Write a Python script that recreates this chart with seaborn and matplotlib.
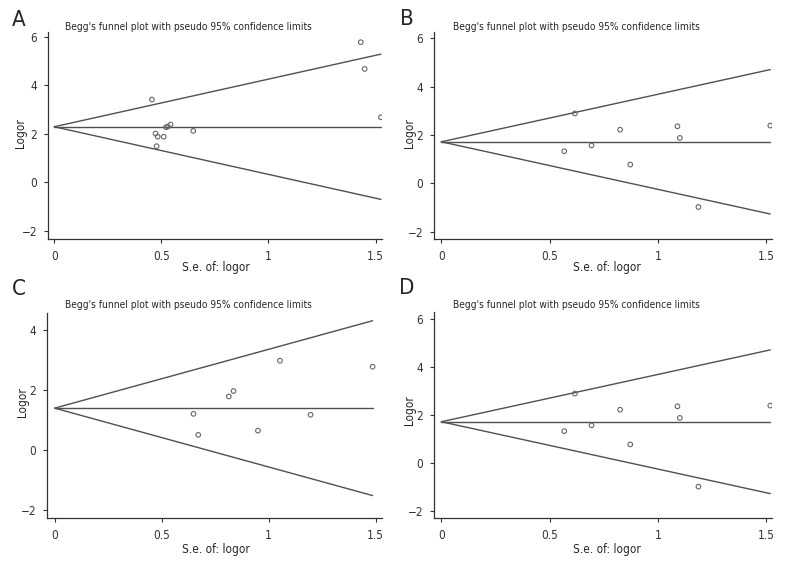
import numpy as np
import pandas as pd
import matplotlib
matplotlib.use("Agg")
import matplotlib.pyplot as plt
from matplotlib import font_manager
import seaborn as sns

# ---- data ----
se_A = [0.456, 0.473, 0.483, 0.478, 0.511, 0.522, 0.530, 0.543, 0.649, 1.431, 1.449, 1.525]
logor_A = [3.41, 2.01, 1.88, 1.49, 1.88, 2.27, 2.30, 2.38, 2.12, 5.77, 4.67, 2.68]
pooled_A = 2.29

se_B = [0.568, 0.617, 0.694, 0.826, 0.873, 1.091, 1.102, 1.188, 1.520]
logor_B = [1.33, 2.89, 1.57, 2.22, 0.78, 2.36, 1.88, -0.97, 2.39]
pooled_B = 1.72

se_C = [0.649, 0.671, 0.814, 0.836, 0.950, 1.053, 1.196, 1.486]
logor_C = [1.22, 0.52, 1.80, 1.98, 0.66, 2.99, 1.19, 2.79]
pooled_C = 1.41

# panel D repeats the data of panel B
se_D = se_B
logor_D = logor_B
pooled_D = pooled_B

title_text = "Begg's funnel plot with pseudo 95% confidence limits"

sns.set_style("ticks")

# look for a narrow / condensed face, the original uses a condensed font
fam, stretch = 'DejaVu Sans', 'normal'
narrow = [f for f in font_manager.fontManager.ttflist
          if ('Narrow' in f.name or 'Condensed' in f.name
              or str(f.stretch) in ('condensed', 'semi-condensed', '300', '400'))
          and f.style == 'normal']
if narrow:
    pick = narrow[0]
    for f in narrow:
        if 'Liberation' in f.name:
            pick = f
    fam, stretch = pick.name, pick.stretch
elif any(f.name == 'Roboto' for f in font_manager.fontManager.ttflist):
    fam = 'Roboto'

plt.rcParams['font.family'] = [fam, 'DejaVu Sans']
plt.rcParams['font.stretch'] = stretch
plt.rcParams['font.size'] = 8.5
plt.rcParams['axes.edgecolor'] = '#333333'
plt.rcParams['axes.linewidth'] = 0.9
plt.rcParams['xtick.color'] = '#333333'
plt.rcParams['ytick.color'] = '#333333'
plt.rcParams['xtick.major.size'] = 3
plt.rcParams['ytick.major.size'] = 3
plt.rcParams['xtick.major.pad'] = 5
plt.rcParams['ytick.major.pad'] = 5

W, H = 792, 576
fig = plt.figure(figsize=(7.92, 5.76), dpi=100)


def px_axes(l, t, r, b):
    return fig.add_axes([l / W, 1 - b / H, (r - l) / W, (b - t) / H])


def funnel(ax, se, logor, pooled, xlim, ylim, yticks):
    se_max = max(se)
    lines = pd.DataFrame({
        'se': [0, se_max] * 3,
        'y': [pooled, pooled,
              pooled, pooled + 1.96 * se_max,
              pooled, pooled - 1.96 * se_max],
        'part': ['mid', 'mid', 'up', 'up', 'low', 'low'],
    })
    sns.lineplot(data=lines, x='se', y='y', units='part', estimator=None,
                 color='#505050', lw=1.0, ax=ax, legend=False)
    pts = pd.DataFrame({'se': se, 'logor': logor})
    sns.scatterplot(data=pts, x='se', y='logor', ax=ax, s=11,
                    facecolor='none', edgecolor='#666666', linewidth=0.8,
                    zorder=3)
    ax.set_xlim(*xlim)
    ax.set_ylim(*ylim)
    ax.set_xticks([0, 0.5, 1, 1.5])
    ax.set_xticklabels(['0', '0.5', '1', '1.5'])
    ax.set_yticks(yticks)
    ax.set_yticklabels([str(v).replace('-', '\u2212') for v in yticks])
    ax.set_xlabel('')
    ax.set_ylabel('')
    sns.despine(ax=ax)
    ax.tick_params(labelsize=8.5)


axA = px_axes(48, 32, 382, 239)
funnel(axA, se_A, logor_A, pooled_A, (-0.029, 1.53), (-2.33, 6.19), [-2, 0, 2, 4, 6])
axB = px_axes(434, 32, 772, 239)
funnel(axB, se_B, logor_B, pooled_B, (-0.034, 1.528), (-2.29, 6.25), [-2, 0, 2, 4, 6])
axC = px_axes(47, 313, 382, 518)
funnel(axC, se_C, logor_C, pooled_C, (-0.036, 1.53), (-2.25, 4.58), [-2, 0, 2, 4])
axD = px_axes(434, 312, 772, 518)
funnel(axD, se_D, logor_D, pooled_D, (-0.034, 1.528), (-2.27, 6.27), [-2, 0, 2, 4, 6])

for (tx, ty) in [(65, 27), (453, 27), (65, 305), (453, 305)]:
    fig.text(tx / W, 1 - ty / H, title_text, fontsize=7.3, va='center', ha='left')

for lab, (lx, ly) in zip('ABCD', [(19, 20), (407, 19), (19, 289), (407, 288)]):
    fig.text(lx / W, 1 - ly / H, lab, fontsize=16, va='center', ha='center')

for (yx, yy) in [(21, 133), (410, 133), (23, 402), (410, 410)]:
    fig.text(yx / W, 1 - yy / H, 'Logor', rotation=90, fontsize=8.5,
             va='center', ha='center')

for (xx, xy) in [(216, 268), (607, 267), (216, 549), (607, 549)]:
    fig.text(xx / W, 1 - xy / H, 'S.e. of: logor', fontsize=8.5,
             va='center', ha='center')

fig.savefig('out.png', dpi=100)
